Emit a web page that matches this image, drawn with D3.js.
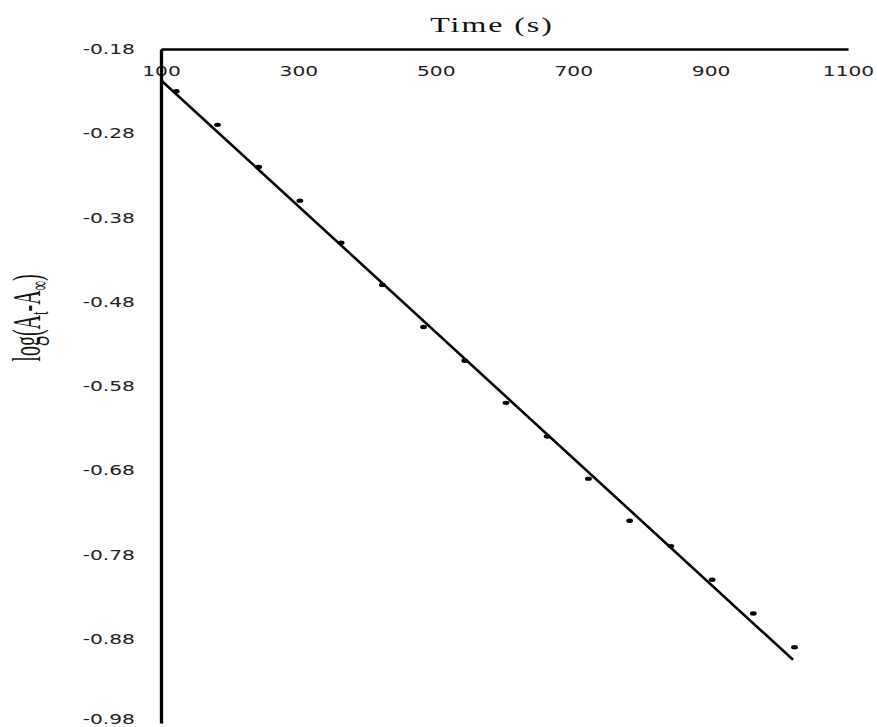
<!DOCTYPE html>
<html>
<head>
<meta charset="utf-8">
<script src="https://cdn.jsdelivr.net/npm/d3@7"></script>
<style>
  html, body { margin: 0; padding: 0; background: #fff; }
  svg { display: block; }
</style>
</head>
<body>
<div id="chart"></div>
<script>
// ---- data ----
const times = [120, 180, 240, 300, 360, 420, 480, 540, 600, 660, 720, 780, 840, 900, 960, 1020];
const logValues = [-0.23, -0.27, -0.32, -0.36, -0.41, -0.46, -0.51, -0.55, -0.60, -0.64, -0.69, -0.74, -0.77, -0.81, -0.85, -0.89];
const trendTimes = [100, 1020];
const trendValues = [-0.217, -0.905];
const xTicks = [100, 300, 500, 700, 900, 1100];
const yTicks = [-0.18, -0.28, -0.38, -0.48, -0.58, -0.68, -0.78, -0.88, -0.98];

const W = 877, H = 727;
const svg = d3.select("#chart").append("svg").attr("width", W).attr("height", H);

const x = d3.scaleLinear().domain([100, 1100]).range([161, 848]);
const y = d3.scaleLinear().domain([-0.98, -0.18]).range([723, 49]);

const sx = 1.5; // horizontal stretch of tick labels
const fmtY = d => d3.format(".2f")(d).replace("\u2212", "-");

// x axis (at top, y = -0.18)
const xAxis = svg.append("g")
  .attr("transform", `translate(0,${y(-0.18)})`)
  .call(d3.axisBottom(x).tickValues(xTicks).tickSize(0).tickSizeOuter(0).tickFormat(d3.format("d")));
xAxis.select(".domain").attr("stroke", "#000").attr("stroke-width", 2.6);
xAxis.selectAll(".tick text")
  .attr("y", 22).attr("dy", "0.35em")
  .attr("font-family", "DejaVu Sans, Verdana, sans-serif")
  .attr("font-size", 13.5).attr("fill", "#222")
  .attr("transform", `scale(${sx},1)`);

// y axis (at x = 100)
const yAxis = svg.append("g")
  .attr("transform", `translate(${x(100)},0)`)
  .call(d3.axisLeft(y).tickValues(yTicks).tickSize(0).tickSizeOuter(0).tickFormat(fmtY));
yAxis.select(".domain").attr("stroke", "#000").attr("stroke-width", 3.3);
yAxis.selectAll(".tick text")
  .attr("x", -26 / sx).attr("dy", d => d === -0.98 ? "0em" : "0.35em")
  .attr("font-family", "DejaVu Sans, Verdana, sans-serif")
  .attr("font-size", 13.5).attr("fill", "#222")
  .attr("transform", `scale(${sx},1)`);

// trend line
const line = d3.line().x(d => x(d[0])).y(d => y(d[1]));
svg.append("path")
  .datum(trendTimes.map((t, i) => [t, trendValues[i]]))
  .attr("d", line)
  .attr("fill", "none").attr("stroke", "#000").attr("stroke-width", 2.6);

// data points
svg.append("g").selectAll("ellipse")
  .data(times.map((t, i) => [t, logValues[i]]))
  .join("ellipse")
  .attr("cx", d => x(d[0]) + 1.5)
  .attr("cy", d => y(d[1]))
  .attr("rx", 3.4).attr("ry", 2.2)
  .attr("fill", "#000");

// title
svg.append("text")
  .attr("transform", `translate(492,32) scale(1.6,1)`)
  .attr("text-anchor", "middle")
  .attr("font-family", "Liberation Serif, Times New Roman, serif")
  .attr("font-size", 20).attr("letter-spacing", 1.2).attr("fill", "#111")
  .text("Time (s)");

// y label
const yl = svg.append("text")
  .attr("transform", `translate(40,318) scale(2.0,1) rotate(-90)`)
  .attr("text-anchor", "middle")
  .attr("font-family", "Liberation Serif, Times New Roman, serif")
  .attr("font-size", 20).attr("fill", "#111");
yl.append("tspan").text("log(A");
yl.append("tspan").attr("font-size", 13).attr("dy", 4).text("t");
yl.append("tspan").attr("dy", -4).text("-A");
yl.append("tspan").attr("font-size", 13).attr("dy", 4).text("∞");
yl.append("tspan").attr("dy", -4).text(")");
</script>
</body>
</html>
